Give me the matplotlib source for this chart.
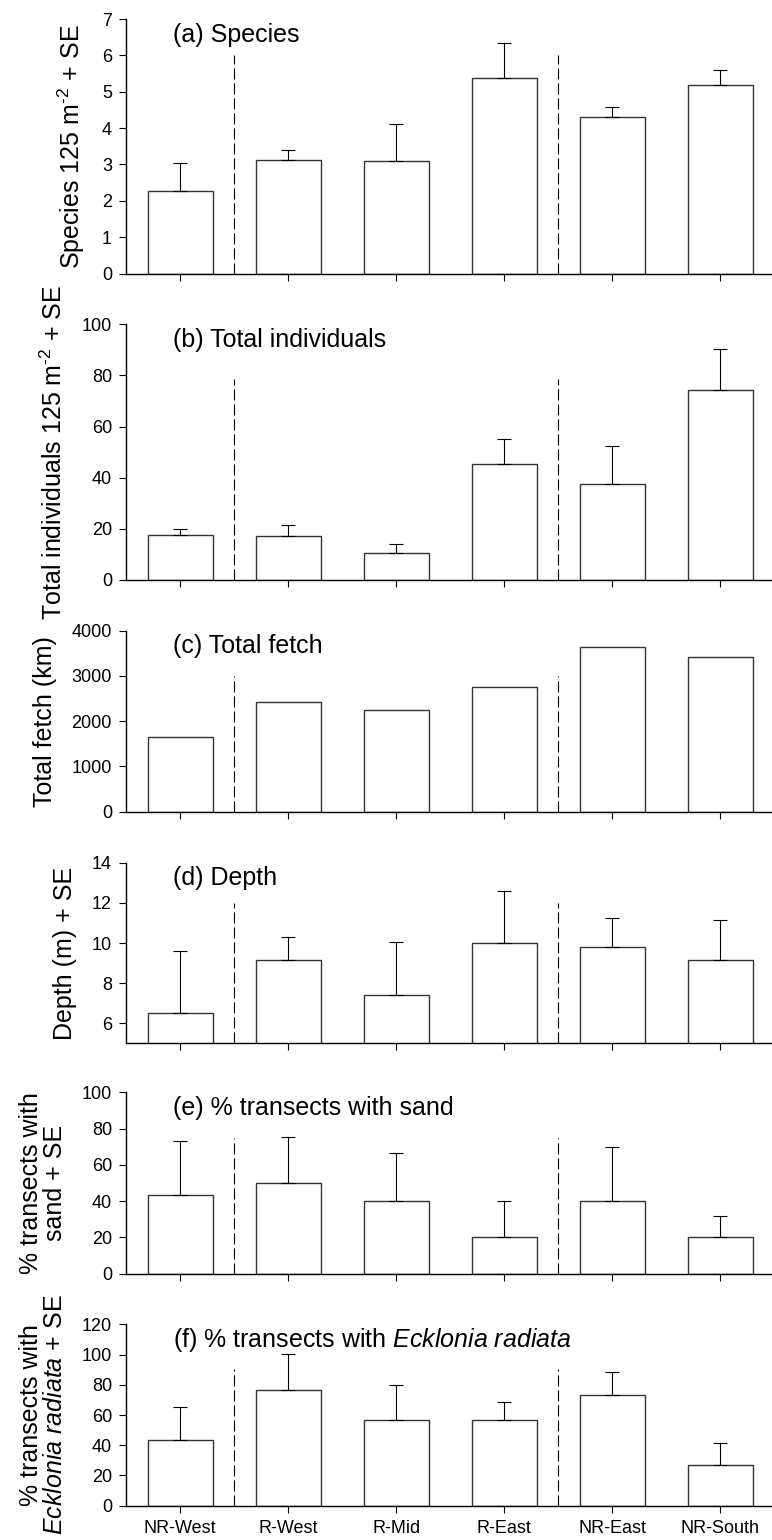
import numpy as np
import matplotlib
matplotlib.use('Agg')
import matplotlib.pyplot as plt

plt.rcParams['font.family'] = ['Liberation Sans', 'DejaVu Sans']
plt.rcParams['mathtext.fontset'] = 'custom'
plt.rcParams['mathtext.rm'] = 'Liberation Sans'
plt.rcParams['mathtext.it'] = 'Liberation Sans:italic'

# sites along the coast, reserve (NR) vs non-reserve (R)
sites = ['NR-West', 'R-West', 'R-Mid', 'R-East', 'NR-East', 'NR-South']

species = [2.27, 3.13, 3.10, 5.38, 4.31, 5.18]
species_se = [0.76, 0.27, 1.01, 0.97, 0.27, 0.42]

individuals = [17.5, 17.1, 10.6, 45.5, 37.5, 74.2]
individuals_se = [2.5, 4.6, 3.3, 9.7, 14.9, 16.0]

fetch = [1654, 2434, 2257, 2765, 3640, 3412]

depth = [6.53, 9.13, 7.39, 10.0, 9.79, 9.15]
depth_se = [3.08, 1.19, 2.68, 2.59, 1.47, 2.01]

sand = [43.3, 50.0, 40.0, 20.0, 40.0, 20.0]
sand_se = [29.8, 25.3, 26.4, 20.0, 29.9, 11.6]

ecklonia = [43.3, 76.7, 56.7, 56.7, 73.3, 26.7]
ecklonia_se = [22.0, 23.6, 23.4, 12.2, 15.0, 14.5]

# height of the dashed group separators in each panel
divider_top = [6, 78.5, 3000, 12, 75, 90.5]

W, H = 772, 1540
fig = plt.figure(figsize=(W / 100, H / 100), dpi=100)

panels = [
    dict(vals=species, se=species_se, ylim=(0, 7), ticks=np.arange(0, 8, 1),
         ylabel='Species 125 m$^{\\text{-}2}$ + SE', title='(a) Species', box=(19, 273.5)),
    dict(vals=individuals, se=individuals_se, ylim=(0, 100), ticks=np.arange(0, 101, 20),
         ylabel='Total individuals 125 m$^{\\text{-}2}$ + SE', title='(b) Total individuals',
         box=(324.3, 580)),
    dict(vals=fetch, se=None, ylim=(0, 4000), ticks=np.arange(0, 4001, 1000),
         ylabel='Total fetch (km)', title='(c) Total fetch', box=(630.7, 811.7)),
    dict(vals=depth, se=depth_se, ylim=(5, 14), ticks=np.arange(6, 15, 2),
         ylabel='Depth (m) + SE', title='(d) Depth', box=(862.7, 1043.4)),
    dict(vals=sand, se=sand_se, ylim=(0, 100), ticks=np.arange(0, 101, 20),
         ylabel='% transects with\nsand + SE', title='(e) % transects with sand',
         box=(1092.3, 1273.7)),
    dict(vals=ecklonia, se=ecklonia_se, ylim=(0, 120), ticks=np.arange(0, 121, 20),
         ylabel='% transects with\n$\\it{Ecklonia\\ radiata}$ + SE',
         title='(f) % transects with $\\it{Ecklonia\\ radiata}$', box=(1324.3, 1505.7)),
]

x = np.arange(len(sites))
breaks = [(x[0] + x[1]) / 2, (x[3] + x[4]) / 2]

for i, p in enumerate(panels):
    top, bot = p['box']
    ax = fig.add_axes([126.3 / W, 1 - bot / H, 648 / W, (bot - top) / H])
    ax.bar(x, p['vals'], width=0.6, color='white', edgecolor='#333333',
           linewidth=1.0, zorder=2)
    if p['se'] is not None:
        ax.errorbar(x, p['vals'], yerr=[np.zeros(len(x)), p['se']], fmt='none',
                    ecolor='black', elinewidth=0.8, capsize=5, capthick=0.8, zorder=3)
    for b in breaks:
        ax.plot([b, b], [p['ylim'][0], divider_top[i]], color='black', lw=0.8,
                dashes=(10, 3.5), zorder=1)
    ax.set_xlim(-0.5, 5.5)
    ax.set_ylim(*p['ylim'])
    ax.set_yticks(p['ticks'])
    ax.set_xticks(x)
    if i == len(panels) - 1:
        ax.set_xticklabels(sites)
    else:
        ax.set_xticklabels([])
    for s in ['top', 'right']:
        ax.spines[s].set_visible(False)
    for s in ['left', 'bottom']:
        ax.spines[s].set_linewidth(1.0)
    ax.tick_params(direction='out', length=4.8, width=0.8, labelsize=13, pad=5.5)
    ax.set_ylabel(p['ylabel'], fontsize=18, labelpad=10.5, linespacing=1.0)
    ax.annotate(p['title'], xy=(0.072, 1), xycoords='axes fraction',
                xytext=(0, -11.2), textcoords='offset points',
                ha='left', va='center', fontsize=18)

fig.savefig('out.png', dpi=100)
